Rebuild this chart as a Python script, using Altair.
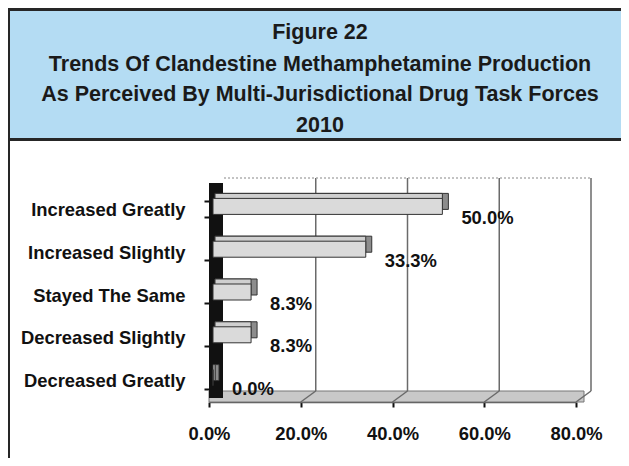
import altair as alt
import pandas as pd

# ---- data ----
categories = ["Increased Greatly", "Increased Slightly", "Stayed The Same",
              "Decreased Slightly", "Decreased Greatly"]
values = [50.0, 33.3, 8.3, 8.3, 0.0]
x_ticks = [0, 20, 40, 60, 80]
title_lines = ["Figure 22",
               "Trends Of Clandestine Methamphetamine Production",
               "As Perceived By Multi-Jurisdictional Drug Task Forces",
               "2010"]

FONT = "Liberation Sans"
W, H = 367, 214
BLUE = "#b4dcf3"
DARK = "#262626"

df = pd.DataFrame({"category": categories, "value": values})
df["zero"] = 0.0
df["label"] = [f"{v:.1f}%" for v in values]
grid_df = pd.DataFrame({"tick": x_ticks[1:]})
span_df = pd.DataFrame({"lo": [x_ticks[0]], "hi": [x_ticks[-1]]})
dummy = pd.DataFrame({"d": [0]})

xscale = alt.Scale(domain=[x_ticks[0], x_ticks[-1]], nice=False)
yscale = alt.Scale(domain=categories, paddingInner=0.626)

x_axis = alt.Axis(values=x_ticks, labelExpr="format(datum.value, '.1f') + '%'",
                  grid=False, domainColor="#555555", domainWidth=1.5,
                  tickColor="#111111", tickSize=5, tickWidth=2,
                  labelFlush=False, labelOverlap=False,
                  labelFont=FONT, labelFontSize=18.4, labelFontWeight="bold",
                  labelColor="#111111", labelPadding=17)
y_axis = alt.Axis(domain=False, ticks=True, tickBand="extent", tickColor="#111111",
                  tickSize=5, tickWidth=2,
                  labelFont=FONT, labelFontSize=18.4, labelFontWeight="bold",
                  labelColor="#111111", labelPadding=19)


def X(field):
    return alt.X(field, scale=xscale, axis=x_axis, title=None)


def Y():
    return alt.Y("category:N", scale=yscale, sort=categories, axis=y_axis, title=None)


# ---- decoration: title box and frame ----
title_box = alt.Chart(dummy).mark_rect(fill=BLUE).encode(
    x=alt.value(-199), x2=alt.value(412), y=alt.value(-177), y2=alt.value(-50))
top_border = alt.Chart(dummy).mark_rect(fill=DARK).encode(
    x=alt.value(-201), x2=alt.value(412), y=alt.value(-180), y2=alt.value(-177))
box_bottom = alt.Chart(dummy).mark_rect(fill=DARK).encode(
    x=alt.value(-201), x2=alt.value(412), y=alt.value(-50), y2=alt.value(-47))
left_border = alt.Chart(dummy).mark_rect(fill=DARK).encode(
    x=alt.value(-201), x2=alt.value(-199), y=alt.value(-180), y2=alt.value(270))

title_y = [-155, -123, -93, -62]
title_layers = [
    alt.Chart(dummy).mark_text(text=line, font=FONT, fontSize=21.5, fontWeight="bold",
                               color="#1a1a1a", align="center", baseline="middle")
    .encode(x=alt.value(111), y=alt.value(yy))
    for line, yy in zip(title_lines, title_y)
]

# ---- 3D-ish plot frame ----
floor = alt.Chart(span_df).mark_rect(fill="#c8c8c8", stroke="#777777", strokeWidth=1,
                                     x2Offset=8).encode(
    x=X("lo:Q"), x2=alt.X2("hi"), y=alt.value(203), y2=alt.value(214))

back_grid = alt.Chart(grid_df).mark_rule(color="#6a6a6a", strokeWidth=1.5, xOffset=15).encode(
    x=X("tick:Q"), y=alt.value(-10), y2=alt.value(203))
slant_grid = alt.Chart(grid_df).mark_rule(color="#6a6a6a", strokeWidth=1.5,
                                          xOffset=15, x2Offset=0).encode(
    x=X("tick:Q"), x2=alt.X2("tick"), y=alt.value(203), y2=alt.value(214))
top_line = alt.Chart(span_df).mark_rule(color="#b0b0b0", strokeWidth=1.5, strokeDash=[2, 2],
                                        xOffset=15, x2Offset=15).encode(
    x=X("lo:Q"), x2=alt.X2("hi"), y=alt.value(-10))

wall = alt.Chart(dummy).mark_rect(fill="#111111").encode(
    x=alt.value(0), x2=alt.value(14), y=alt.value(-5), y2=alt.value(210))


# ---- bars ----
def bar_layer(**mark_kw):
    return alt.Chart(df).mark_bar(stroke="#333333", strokeWidth=1, **mark_kw).encode(
        x=X("value:Q"), x2=alt.X2("zero"), y=Y())


bars_cap = bar_layer(fill="#8c8c8c", xOffset=10, x2Offset=6, yOffset=-8)
bars_top = bar_layer(fill="#cfcfcf", xOffset=4, x2Offset=6, yOffset=-8)
bars_front = bar_layer(fill="#dadada", xOffset=4, x2Offset=4, yOffset=-3)

labels = alt.Chart(df).mark_text(align="left", baseline="middle", dx=23, dy=8.5,
                                 font=FONT, fontSize=18.4, fontWeight="bold",
                                 color="#111111").encode(
    x=X("value:Q"), y=Y(), text="label:N")

chart = alt.layer(
    title_box, top_border, box_bottom, left_border, *title_layers,
    floor, back_grid, slant_grid, top_line, wall,
    bars_cap, bars_top, bars_front, labels,
).properties(
    width=W, height=H,
    autosize=alt.AutoSizeParams(type="none"),
    padding={"left": 201, "top": 180, "right": 45, "bottom": 56},
    background="white",
).configure_view(stroke=None)

chart.save("out.html", embed_options={"renderer": "svg", "actions": False})
